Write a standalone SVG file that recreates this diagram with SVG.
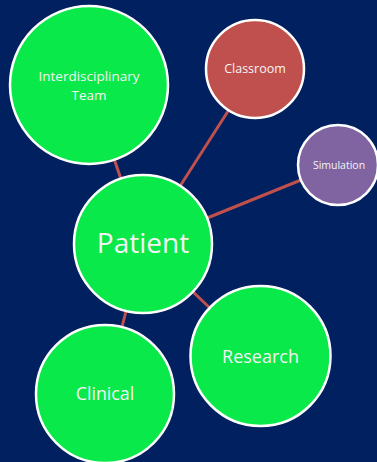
<svg xmlns="http://www.w3.org/2000/svg" width="377" height="462" viewBox="0 0 377 462">
<style>
.bg{fill:#012060}
.link{stroke:#C0504D;stroke-width:3;fill:none}
.node{stroke:#FFFFFF;stroke-width:2.5}
.green{fill:#0AE94A}
.red{fill:#C0504D}
.purple{fill:#8064A2}
.lbl{font-family:"Open Sans","Noto Sans",sans-serif;fill:#F4F4F4;text-anchor:middle}
</style>
<rect class="bg" x="0" y="0" width="377" height="462"/>
<g id="connectors">
<line class="link" x1="89" y1="85" x2="143" y2="244"/>
<line class="link" x1="255" y1="69" x2="143" y2="244"/>
<line class="link" x1="338" y1="165" x2="143" y2="244"/>
<line class="link" x1="105" y1="394" x2="143" y2="244"/>
<line class="link" x1="260" y1="356" x2="143" y2="244"/>
</g>
<g id="interdisciplinary-team">
<circle class="node green" cx="89" cy="85" r="79"/>
<text class="lbl" x="89" y="81" font-size="13.5">Interdisciplinary</text>
<text class="lbl" x="89" y="100" font-size="13.5">Team</text>
</g>
<g id="classroom">
<circle class="node red" cx="255" cy="69" r="49"/>
<text class="lbl" x="255" y="73" font-size="12.5">Classroom</text>
</g>
<g id="simulation">
<circle class="node purple" cx="338" cy="165" r="40"/>
<text class="lbl" x="339" y="169" font-size="10.5">Simulation</text>
</g>
<g id="patient">
<circle class="node green" cx="143" cy="244" r="69"/>
<text class="lbl" x="143" y="253" font-size="28">Patient</text>
</g>
<g id="research">
<circle class="node green" cx="260.5" cy="356" r="70"/>
<text class="lbl" x="260.5" y="363" font-size="18">Research</text>
</g>
<g id="clinical">
<circle class="node green" cx="105" cy="394" r="69"/>
<text class="lbl" x="105" y="400" font-size="17.8">Clinical</text>
</g>
</svg>
